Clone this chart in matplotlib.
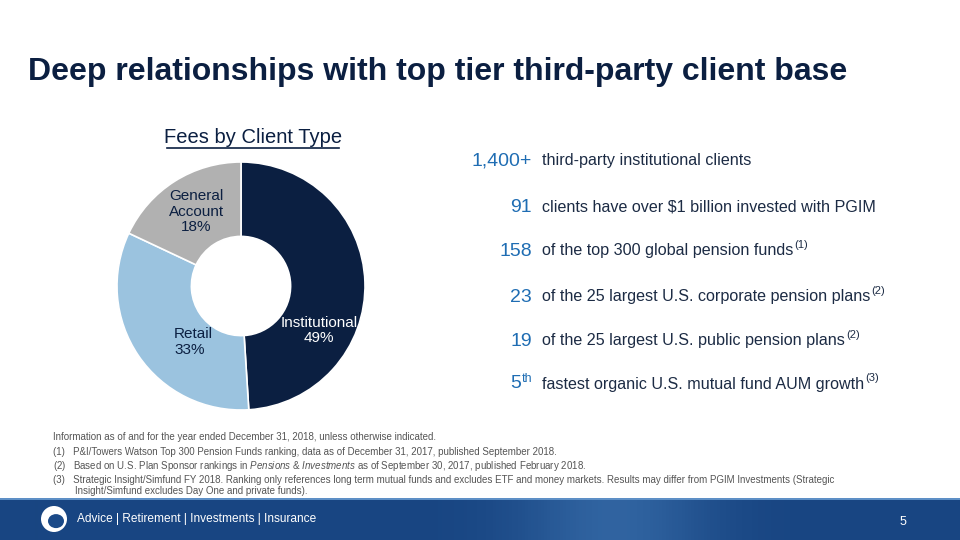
import numpy as np
import matplotlib.pyplot as plt
from matplotlib.patches import Rectangle, Ellipse

# data
client_types = ["Institutional", "Retail", "General\nAccount"]
fee_shares = [49, 33, 18]
slice_colors = ["#0b1f41", "#9bc3df", "#b1b1b1"]

stat_numbers = ["1,400+", "91", "158", "23", "19", "5"]
stat_sups = ["", "", "", "", "", "th"]
stat_texts = ["third-party institutional clients",
              "clients have over $1 billion invested with PGIM",
              "of the top 300 global pension funds",
              "of the 25 largest U.S. corporate pension plans",
              "of the 25 largest U.S. public pension plans",
              "fastest organic U.S. mutual fund AUM growth"]
stat_notes = ["", "", "(1)", "(2)", "(2)", "(3)"]

footnotes = [
    "Information as of and for the year ended December 31, 2018, unless otherwise indicated.",
    "(1)   P&I/Towers Watson Top 300 Pension Funds ranking, data as of December 31, 2017, published September 2018.",
    "(2)   Based on U.S. Plan Sponsor rankings in $\\it{Pensions\\ &\\ Investments}$ as of September 30, 2017, published February 2018.",
    "(3)   Strategic Insight/Simfund FY 2018. Ranking only references long term mutual funds and excludes ETF and money markets. Results may differ from PGIM Investments (Strategic",
    "        Insight/Simfund excludes Day One and private funds).",
]

plt.rcParams['font.family'] = ['Liberation Sans', 'DejaVu Sans']
plt.rcParams['mathtext.fontset'] = 'custom'
plt.rcParams['mathtext.it'] = 'Liberation Sans:italic'
plt.rcParams['mathtext.rm'] = 'Liberation Sans'

W, H = 960, 540
fig = plt.figure(figsize=(9.6, 5.4), dpi=100)
fig.patch.set_facecolor("white")

def fx(px):
    return px / W

def fy(py):
    return 1 - py / H

navy = "#0b1f41"
blue = "#1f6db3"

# title
fig.text(fx(28), fy(72), "Deep relationships with top tier third-party client base",
         fontsize=23, fontweight="bold", color=navy, va="center", ha="left")

# donut
cx, cy, R = 241, 286, 124
ax = fig.add_axes([fx(cx - R), fy(cy + R), 2 * R / W, 2 * R / H])
ax.pie(fee_shares, colors=slice_colors, startangle=90, counterclock=False,
       radius=1, wedgeprops=dict(width=0.6, edgecolor="white", linewidth=1.2))
ax.set_xlim(-1, 1)
ax.set_ylim(-1, 1)
ax.set_aspect("equal")
ax.axis("off")

label_pos = [(0.63, -0.36), (-0.54, -0.45), (-0.36, 0.60)]
label_col = ["white", navy, navy]
label_ha = ["center", "left", "center"]
for name, v, (lx, ly), c, ha in zip(client_types, fee_shares, label_pos, label_col, label_ha):
    ax.text(lx, ly, f"{name}\n{v}%", ha=ha, va="center", color=c, fontsize=11,
            linespacing=1.15)

fig.text(fx(253), fy(137), "Fees by Client Type", fontsize=14.5, color=navy,
         ha="center", va="center")
fig.add_artist(plt.Line2D([fx(167), fx(339)], [fy(148), fy(148)], color=navy, lw=1.2))

# stats list
renderer = fig.canvas.get_renderer()
row_y = [161, 207, 251, 297, 341, 384]
for num, sup, txt, note, yy in zip(stat_numbers, stat_sups, stat_texts, stat_notes, row_y):
    if sup:
        s = fig.text(fx(532), fy(yy - 5), sup, fontsize=9, color=blue, ha="right", va="center")
        sw = s.get_window_extent(renderer).width
        fig.text(fx(532 - sw), fy(yy), num, fontsize=14, color=blue, ha="right", va="center")
    else:
        fig.text(fx(532), fy(yy), num, fontsize=14, color=blue, ha="right", va="center")
    t = fig.text(fx(542), fy(yy), txt, fontsize=11.6, color="#1c2b44", ha="left", va="center")
    if note:
        bb = t.get_window_extent(renderer)
        fig.text(bb.x1 / W + fx(1), fy(yy - 6), note, fontsize=8, color="#1c2b44",
                 ha="left", va="center")

# footnotes
foot_y = [437, 452, 466, 480, 491]
for line, yy in zip(footnotes, foot_y):
    fig.text(fx(53), fy(yy), line, fontsize=7.0, color="#555555", ha="left", va="center")

# footer band
band = fig.add_axes([0, 0, 1, 42 / H])
grad = np.linspace(0, 1, 300)
shade = np.exp(-((grad - 0.64) / 0.1) ** 2) * 0.4
img = np.zeros((1, 300, 3))
base = np.array([0x18, 0x45, 0x82]) / 255
light = np.array([0x55, 0x92, 0xcf]) / 255
for i in range(300):
    img[0, i] = base * (1 - shade[i]) + light * shade[i]
band.imshow(img, aspect="auto", extent=[0, 1, 0, 1])
band.set_xlim(0, 1)
band.set_ylim(0, 1)
band.axis("off")
band.add_patch(Rectangle((0, 0.95), 1, 0.05, color="#5d8fc6", lw=0))
band.add_patch(Ellipse((54 / W, 0.5), 26 / W, 26 / 42, facecolor="white",
                       edgecolor="none"))
band.add_patch(Ellipse((56 / W, 0.45), 16 / W, 14 / 42, facecolor="#1b4a88",
                       edgecolor="none"))
band.text(77 / W, 0.5, "Advice | Retirement | Investments | Insurance", color="white",
          fontsize=8.6, ha="left", va="center")
band.text(903 / W, 0.44, "5", color="white", fontsize=9, ha="center", va="center")

fig.savefig("out.png", dpi=100)
